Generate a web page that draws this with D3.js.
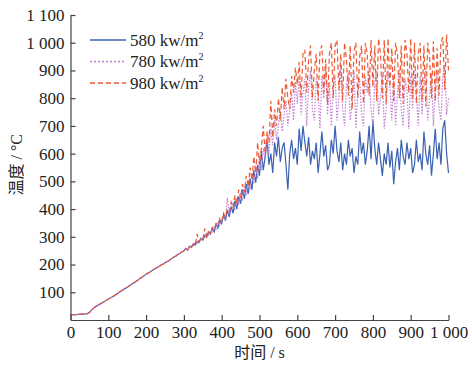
<!DOCTYPE html>
<html>
<head>
<meta charset="utf-8">
<script src="https://cdn.jsdelivr.net/npm/d3@7"></script>
<style>
  body { margin: 0; background: #fff; }
  text { font-family: "Liberation Serif", "Noto Sans CJK SC", serif; fill: #222; }
</style>
</head>
<body>
<div id="chart"></div>
<script>
// sample times (s), one every 5 s
const times = d3.range(0, 1001, 5)

const early = [19, 19, 19, 19, 20, 20, 21, 21, 22, 23, 27, 35, 42, 47, 51, 55, 59, 63, 67, 71,
  75, 79, 83, 87, 92, 96, 101, 105, 110, 114, 118, 123, 127, 132, 136, 141, 146, 151, 155, 160,
  165, 169, 173, 178, 182, 186, 190, 194, 198, 202, 206, 210, 214, 219, 224, 228, 232, 237, 241, 246, 250]

const flux580 = early.concat([
  258, 252, 266, 262, 274, 270, 283, 279, 295, 288, 305, 298, 318, 310, 330, 318, 345, 332, 360, 348,
  380, 358, 395, 372, 410, 385, 430, 400, 445, 420, 470, 438, 490, 455, 510, 470, 540, 495, 560, 520,
  610, 540, 590, 650, 560, 600, 530, 640, 590, 660, 570, 620, 640, 560, 470, 600, 650, 580, 620, 560,
  690, 610, 700, 640, 590, 660, 560, 610, 580, 640, 530, 600, 680, 590, 630, 540, 560, 650, 600, 700,
  610, 570, 640, 540, 600, 560, 650, 590, 620, 530, 590, 560, 680, 600, 640, 560, 610, 700, 580, 720,
  620, 560, 640, 580, 520, 600, 560, 640, 550, 610, 490, 570, 620, 540, 650, 590, 560, 640, 580, 620,
  530, 560, 650, 570, 600, 540, 680, 600, 560, 630, 520, 600, 690, 580, 640, 560, 690, 720, 600, 530])

const flux780 = early.concat([
  254, 262, 260, 270, 268, 280, 276, 290, 286, 300, 296, 312, 306, 322, 318, 336, 328, 350, 340, 362,
  375, 365, 440, 380, 400, 420, 395, 440, 415, 460, 430, 480, 450, 505, 470, 530, 490, 560, 510, 590,
  540, 620, 580, 660, 600, 690, 630, 720, 650, 700, 760, 680, 740, 790, 700, 760, 820, 720, 860, 780,
  880, 740, 820, 870, 700, 840, 900, 760, 720, 870, 820, 690, 880, 800, 910, 740, 860, 700, 840, 880,
  720, 800, 910, 760, 700, 850, 890, 720, 780, 900, 690, 820, 870, 740, 700, 880, 820, 910, 760, 700,
  860, 900, 740, 800, 880, 690, 760, 900, 840, 720, 880, 700, 820, 910, 760, 700, 870, 830, 690, 880,
  760, 900, 820, 700, 880, 740, 860, 910, 720, 800, 890, 700, 840, 900, 760, 720, 880, 920, 740, 800])

const flux980 = early.concat([
  256, 252, 268, 262, 276, 272, 310, 282, 294, 290, 330, 300, 318, 312, 334, 326, 348, 342, 366, 356,
  385, 370, 400, 390, 425, 405, 450, 420, 470, 440, 490, 460, 520, 480, 550, 505, 590, 530, 640, 560,
  620, 700, 600, 680, 640, 790, 660, 760, 700, 800, 720, 840, 760, 870, 800, 760, 880, 820, 910, 850,
  930, 800, 960, 975, 820, 940, 990, 800, 900, 960, 790, 970, 990, 820, 940, 780, 960, 1000, 800, 990,
  1010, 830, 960, 790, 1000, 940, 810, 990, 760, 970, 1000, 800, 950, 990, 780, 1000, 960, 810, 1010, 840,
  990, 790, 1015, 960, 800, 1010, 780, 1015, 840, 980, 790, 1000, 960, 800, 990, 780, 1010, 960, 820, 1015,
  800, 1000, 780, 960, 1000, 790, 990, 770, 1000, 950, 800, 1005, 790, 980, 810, 1000, 1020, 830, 1030, 900])

const seriesNames = ['580 kw/m', '780 kw/m', '980 kw/m']
const seriesColors = ['#3a62b4', '#c27fd0', '#ee5a33']
const seriesDash = [null, '1.5,1.5', '5,3']
const xTicks = [0, 100, 200, 300, 400, 500, 600, 700, 800, 900, 1000]
const yTicks = [100, 200, 300, 400, 500, 600, 700, 800, 900, 1000, 1100]

const width = 472, height = 365
const margin = {left: 70.5, right: 23.5, top: 15, bottom: 45}

const svg = d3.select('#chart').append('svg')
    .attr('width', width)
    .attr('height', height)

const x = d3.scaleLinear().domain([0, 1000]).range([margin.left, width - margin.right])
const y = d3.scaleLinear().domain([0, 1100]).range([height - margin.bottom, margin.top])

const fmt = (d) => d >= 1000 ? d3.format(',')(d).replace(',', ' ') : String(d)

const line = d3.line().x((d, i) => x(times[i])).y((d) => y(d))

// blue at the back, orange on top
const allSeries = [flux580, flux780, flux980]
allSeries.forEach((s, k) => {
  svg.append('path')
      .datum(s)
      .attr('fill', 'none')
      .attr('stroke', seriesColors[k])
      .attr('stroke-width', 1.2)
      .attr('stroke-dasharray', seriesDash[k])
      .attr('d', line)
})

// axes, ticks pointing inward
svg.append('g')
    .attr('transform', `translate(0,${y(0)})`)
    .call(d3.axisBottom(x).tickValues(xTicks).tickFormat(fmt)
        .tickSizeInner(-5).tickSizeOuter(0).tickPadding(6))
svg.append('g')
    .attr('transform', `translate(${x(0)},0)`)
    .call(d3.axisLeft(y).tickValues(yTicks).tickFormat(fmt)
        .tickSizeInner(-5).tickSizeOuter(0).tickPadding(6))

svg.selectAll('.domain, .tick line').attr('stroke', '#444').attr('stroke-width', 1.2)
svg.selectAll('.tick text').attr('font-size', 17)
    .attr('font-family', '"Liberation Serif", serif').attr('fill', '#222')

// axis titles
svg.append('text')
    .attr('x', (x(0) + x(1000)) / 2)
    .attr('y', 358)
    .attr('text-anchor', 'middle')
    .attr('font-size', 16)
    .text('时间 / s')

svg.append('text')
    .attr('transform', `translate(22,${y(560)}) rotate(-90)`)
    .attr('text-anchor', 'middle')
    .attr('font-size', 16)
    .text('温度 / °C')

// legend
const legend = svg.append('g')
seriesNames.forEach((name, i) => {
  const cy = 40 + i * 21.5
  legend.append('line')
      .attr('x1', 90).attr('x2', 126)
      .attr('y1', cy).attr('y2', cy)
      .attr('stroke', seriesColors[i])
      .attr('stroke-width', 1.3)
      .attr('stroke-dasharray', i === 1 ? '2,2' : seriesDash[i])
  const t = legend.append('text')
      .attr('x', 130).attr('y', cy + 5.5)
      .attr('font-size', 17)
      .text(name)
  t.append('tspan').attr('font-size', 10).attr('dy', -7).text('2')
})
</script>
</body>
</html>
